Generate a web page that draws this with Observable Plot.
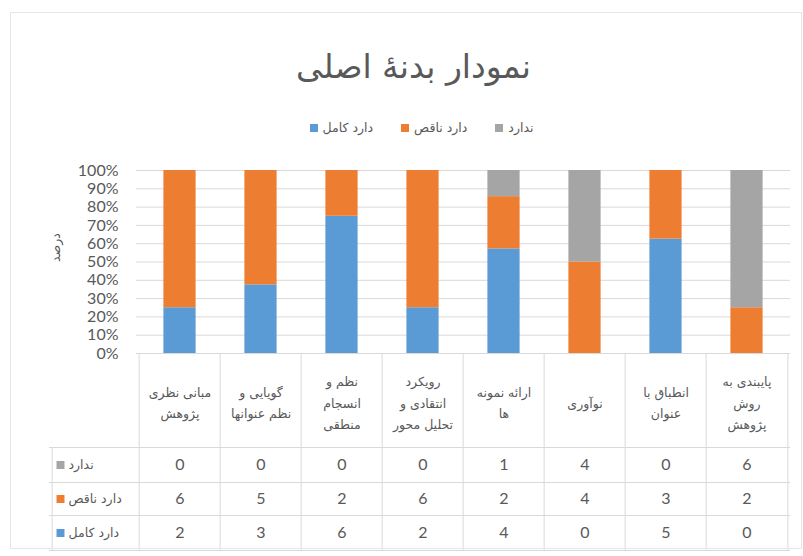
<!DOCTYPE html>
<html>
<head>
<meta charset="utf-8">
<script src="https://cdn.jsdelivr.net/npm/d3@7"></script>
<script src="https://cdn.jsdelivr.net/npm/@observablehq/plot@0.6"></script>
<style>
  body { margin: 0; background: #fff; }
  #wrap { position: relative; width: 803px; height: 556px; overflow: hidden; background: #fff; color: #595959; font-family: "DejaVu Sans", sans-serif; }
  #frame { position: absolute; left: 10px; top: 12px; width: 792px; height: 537px; border: 1px solid #e6e6e6; box-sizing: border-box; pointer-events: none; }
  #title { height: 100px; box-sizing: border-box; padding-top: 44px; padding-left: 24px; text-align: center; font-size: 33px; line-height: 46px; color: #595959; }
  #legend { height: 50px; box-sizing: border-box; padding-top: 19px; padding-left: 40px; display: flex; justify-content: center; align-items: flex-start; gap: 28px; font-size: 12.5px; line-height: 18px; }
  .item { display: flex; align-items: center; gap: 5px; direction: ltr; }
  .sw { width: 8px; height: 8px; display: inline-block; }
  #chart svg { display: block; }
</style>
</head>
<body>
<div id="wrap">
  <div id="title"></div>
  <div id="legend"></div>
  <div id="chart"></div>
  <div id="frame"></div>
</div>
<script>
// ---- data ----
const title = "نمودار بدنهٔ اصلی";
const yLabel = "درصد";
const categories = [
  "مبانی نظری\nپژوهش",
  "گویایی و\nنظم عنوانها",
  "نظم و\nانسجام\nمنطقی",
  "رویکرد\nانتقادی و\nتحلیل محور",
  "ارائه نمونه\nها",
  "نوآوری",
  "انطباق با\nعنوان",
  "پایبندی به\nروش\nپژوهش"
];
const seriesNames = ["دارد کامل", "دارد ناقص", "ندارد"];
const seriesColors = ["#5B9BD5", "#ED7D31", "#A5A5A5"];
const complete = [2, 3, 6, 2, 4, 0, 5, 0];   // دارد کامل
const partial  = [6, 5, 2, 6, 2, 4, 3, 2];   // دارد ناقص
const none     = [0, 0, 0, 0, 1, 4, 0, 6];   // ندارد
const yTicks = [0, 0.1, 0.2, 0.3, 0.4, 0.5, 0.6, 0.7, 0.8, 0.9, 1];
const tableRowOrder = ["ندارد", "دارد ناقص", "دارد کامل"];

// ---- build long table ----
const valuesBySeries = {"دارد کامل": complete, "دارد ناقص": partial, "ندارد": none};
const rows = seriesNames.flatMap(s => categories.map((c, i) => ({category: c, series: s, value: valuesBySeries[s][i]})));

// ---- title & legend ----
document.getElementById("title").textContent = title;
const legend = document.getElementById("legend");
seriesNames.forEach((s, i) => {
  const it = document.createElement("span");
  it.className = "item";
  const sw = document.createElement("span");
  sw.className = "sw";
  sw.style.background = seriesColors[i];
  const lb = document.createElement("span");
  lb.textContent = s;
  it.append(sw, lb);
  legend.append(it);
});

// ---- layout constants ----
const W = 803, H = 406, mL = 136, mR = 13, mT = 20, mB = 203;
const step = (W - mL - mR) / categories.length;
const frameH = H - mT - mB;
const grid = "#d9d9d9";
const rowDy = {"ندارد": 111.5, "دارد ناقص": 145.5, "دارد کامل": 179.5};
const tableBottom = 197;
const rowHeaderW = 87;
const arabicFont = "DejaVu Sans, sans-serif";

const marks = [
  Plot.ruleY(yTicks, {stroke: grid}),
  Plot.barY(rows, {x: "category", y: "value", fill: "series", offset: "normalize", insetLeft: 24.4, insetRight: 24.4}),
  Plot.text([yLabel], {frameAnchor: "left", dx: -81, rotate: -90, text: d => d, fontSize: 12.5, fontFamily: arabicFont, fill: "#595959"}),
  // table grid: vertical lines
  Plot.ruleX(categories, {x: d => d, dx: -step / 2, insetTop: frameH, insetBottom: -tableBottom, stroke: grid}),
  Plot.ruleX(categories.slice(-1), {x: d => d, dx: step / 2, insetTop: frameH, insetBottom: -tableBottom, stroke: grid}),
  Plot.ruleX(categories.slice(0, 1), {x: d => d, dx: -step / 2 - rowHeaderW, insetTop: frameH + 94, insetBottom: -tableBottom, stroke: grid}),
  // table grid: horizontal lines
  ...[94, 129, 162, tableBottom].map(dy => Plot.ruleY([0], {dy, insetLeft: -rowHeaderW, stroke: grid})),
  // header labels
  Plot.text(categories, {x: d => d, text: d => d, frameAnchor: "bottom", dy: 47, lineAnchor: "middle", lineHeight: 1.75, fontSize: 12.5, fontFamily: arabicFont, fill: "#595959"}),
  // values + row headers
  ...tableRowOrder.flatMap(s => [
    Plot.text(rows.filter(d => d.series === s), {x: "category", text: "value", frameAnchor: "bottom", dy: rowDy[s], lineAnchor: "middle", fontSize: 16, fontFamily: "Lato, sans-serif", fill: "#595959"}),
    Plot.text([s], {frameAnchor: "bottom-left", text: d => d, dx: -68, dy: rowDy[s], textAnchor: "start", lineAnchor: "middle", fontSize: 12.5, fontFamily: arabicFont, fill: "#595959"}),
    Plot.dot([s], {frameAnchor: "bottom-left", fill: d => d, symbol: "square", r: 4.5, dx: -76, dy: rowDy[s]})
  ])
];

const chart = Plot.plot({
  width: W, height: H,
  marginLeft: mL, marginRight: mR, marginTop: mT, marginBottom: mB,
  style: {fontSize: "16px", fontFamily: "Lato, sans-serif", color: "#595959", background: "transparent", overflow: "visible"},
  x: {domain: categories, padding: 0, axis: null},
  y: {domain: [0, 1], ticks: yTicks, tickFormat: d => Math.round(d * 100) + "%", tickSize: 0, tickPadding: 18, label: null},
  color: {domain: seriesNames, range: seriesColors},
  marks
});
document.getElementById("chart").append(chart);
</script>
</body>
</html>
